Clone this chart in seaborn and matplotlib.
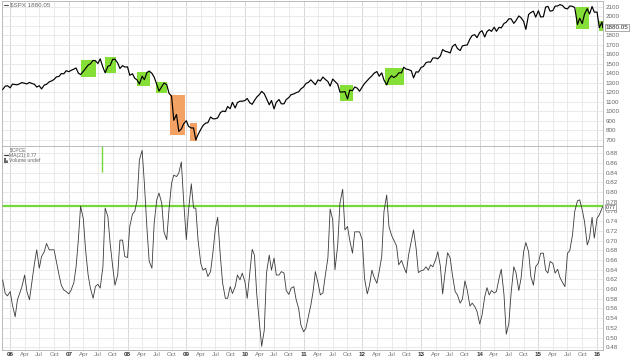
import numpy as np
import pandas as pd
import matplotlib
matplotlib.use("Agg")
import matplotlib.pyplot as plt
import matplotlib.dates as mdates
import matplotlib.transforms as mtransforms
from matplotlib.patches import Rectangle
import seaborn as sns

# ---------------- data ----------------
start_date = "2005-11-15"
last_regular = "2016-02-01"
last_date = "2016-02-05"

spx_close = [
    1230, 1265, 1270,
    1248, 1287, 1282, 1280, 1291, 1303, 1295, 1289, 1305, 1294, 1285, 1256,
    1270, 1236, 1277, 1285, 1311, 1320, 1336, 1362, 1368, 1397, 1396, 1427,
    1418, 1431, 1445, 1456, 1403, 1387, 1421, 1452, 1486, 1501, 1536, 1533,
    1503, 1553, 1465, 1406, 1474, 1484, 1547, 1548, 1508, 1451, 1481, 1467,
    1468, 1380, 1395, 1349, 1330, 1288, 1370, 1334, 1409, 1424, 1400, 1360,
    1285, 1214, 1260, 1298, 1282, 1192, 1161, 907, 968, 790, 816, 869,
    903, 843, 826, 827, 700, 757, 811, 852, 877, 882, 942, 923,
    923, 932, 987, 1004, 998, 1052, 1029, 1096, 1036, 1093, 1108, 1107,
    1115, 1136, 1089, 1075, 1115, 1150, 1178, 1211, 1186, 1135, 1070, 1115,
    1027, 1096, 1125, 1080, 1080, 1125, 1146, 1176, 1184, 1197, 1206, 1236,
    1258, 1293, 1307, 1332, 1306, 1281, 1332, 1320, 1361, 1338, 1314, 1266,
    1340, 1316, 1286, 1204, 1204, 1209, 1131, 1224, 1218, 1257, 1244, 1212,
    1258, 1293, 1324, 1350, 1374, 1402, 1419, 1370, 1405, 1330, 1278, 1342,
    1374, 1356, 1375, 1405, 1406, 1465, 1444, 1440, 1427, 1353, 1416, 1413,
    1462, 1472, 1513, 1520, 1518, 1561, 1562, 1553, 1583, 1650, 1631, 1626,
    1614, 1682, 1706, 1661, 1640, 1688, 1695, 1698, 1761, 1798, 1806, 1775,
    1831, 1848, 1782, 1838, 1859, 1841, 1885, 1842, 1883, 1878, 1924, 1937,
    1973, 1973, 1925, 1955, 2003, 1985, 1946, 1862, 2018, 2039, 2053, 1990,
    2058, 1992, 1995, 2096, 2104, 2053, 2060, 2106, 2108, 2122, 2111, 2084,
    2077, 2108, 2104, 2092, 1914, 1979, 1923, 2023, 2079, 2023, 2102, 2043,
    2044, 1880, 1940, 1880.05,
]

cpce_ma21 = [
    0.619, 0.591, 0.586, 0.595, 0.567, 0.543, 0.578, 0.591, 0.605, 0.629,
    0.595, 0.578, 0.612, 0.653, 0.681, 0.643, 0.667, 0.677, 0.694, 0.681,
    0.681, 0.681, 0.657, 0.629, 0.608, 0.598, 0.595, 0.590, 0.598, 0.613,
    0.646, 0.701, 0.771, 0.745, 0.681, 0.629, 0.602, 0.581, 0.605, 0.610,
    0.602, 0.646, 0.767, 0.749, 0.694, 0.646, 0.608, 0.629, 0.701, 0.701,
    0.667, 0.665, 0.729, 0.755, 0.760, 0.784, 0.866, 0.886, 0.818, 0.725,
    0.657, 0.643, 0.736, 0.784, 0.798, 0.777, 0.718, 0.702, 0.763, 0.818,
    0.835, 0.832, 0.839, 0.862, 0.784, 0.702, 0.763, 0.817, 0.767, 0.767,
    0.701, 0.653, 0.639, 0.643, 0.626, 0.636, 0.674, 0.725, 0.748, 0.667,
    0.612, 0.581, 0.581, 0.605, 0.591, 0.605, 0.629, 0.619, 0.633, 0.615,
    0.581, 0.636, 0.682, 0.670, 0.591, 0.529, 0.482, 0.515, 0.633, 0.670,
    0.639, 0.664, 0.629, 0.629, 0.636, 0.633, 0.597, 0.589, 0.602, 0.605,
    0.579, 0.560, 0.526, 0.512, 0.519, 0.546, 0.567, 0.595, 0.636, 0.612,
    0.588, 0.592, 0.626, 0.664, 0.765, 0.743, 0.640, 0.690, 0.777, 0.806,
    0.722, 0.729, 0.701, 0.674, 0.718, 0.718, 0.718, 0.701, 0.622, 0.590,
    0.608, 0.639, 0.624, 0.612, 0.636, 0.667, 0.760, 0.794, 0.729, 0.711,
    0.701, 0.689, 0.650, 0.659, 0.646, 0.633, 0.670, 0.698, 0.722, 0.684,
    0.634, 0.638, 0.639, 0.646, 0.639, 0.650, 0.646, 0.660, 0.677, 0.647,
    0.590, 0.639, 0.675, 0.664, 0.629, 0.595, 0.588, 0.571, 0.579, 0.617,
    0.598, 0.565, 0.571, 0.564, 0.554, 0.528, 0.546, 0.584, 0.603, 0.588,
    0.597, 0.592, 0.595, 0.622, 0.641, 0.588, 0.507, 0.529, 0.591, 0.646,
    0.633, 0.597, 0.622, 0.677, 0.696, 0.677, 0.626, 0.608, 0.646, 0.654,
    0.674, 0.674, 0.639, 0.633, 0.657, 0.653, 0.633, 0.641, 0.624, 0.613,
    0.605, 0.674, 0.679, 0.711, 0.760, 0.782, 0.784, 0.763, 0.739, 0.691,
    0.705, 0.748, 0.705, 0.746, 0.753, 0.767, 0.770,
]

# highlight boxes on the price panel
box_start = ["2007-03-18", "2007-08-14", "2008-02-27", "2008-06-27", "2008-09-23",
             "2009-01-25", "2011-08-15", "2012-05-22", "2015-08-21", "2016-01-15"]
box_end = ["2007-06-19", "2007-10-22", "2008-05-21", "2008-09-02", "2008-12-24",
           "2009-03-07", "2011-11-05", "2012-09-19", "2015-11-10", "2016-02-12"]
box_low = [1362, 1400, 1267, 1197, 752, 692, 1113, 1278, 1866, 1848]
box_high = [1540, 1568, 1417, 1312, 1172, 882, 1278, 1453, 2100, 1950]
box_kind = ["up", "up", "up", "up", "down", "down", "up", "up", "up", "up"]

cpce_level = 0.772
marker_date = "2007-07-24"
marker_low, marker_high = 0.842, 0.895

spx_last_label = "1880.05"
cpce_last_label = "0.77"
cpce_last_value = 0.769

spx_ticks = list(range(700, 2101, 100))
cpce_ticks = [round(0.48 + 0.02 * k, 2) for k in range(21)]

dates = list(pd.date_range(start_date, last_regular, freq="SMS")) + [pd.Timestamp(last_date)]
df = pd.DataFrame({"date": dates, "spx": spx_close, "cpce": cpce_ma21})

# ---------------- style ----------------
sns.set_style("white")
plt.rcParams["font.family"] = ["Liberation Sans", "DejaVu Sans"]

W, H = 640, 361
fig = plt.figure(figsize=(W / 100, H / 100), dpi=100)
ax1 = fig.add_axes([2 / W, 1 - 146 / H, 601 / W, 145 / H])
ax2 = fig.add_axes([2 / W, 1 - 350 / H, 601 / W, 204 / H])

xlim = (pd.Timestamp("2005-11-11"), pd.Timestamp("2016-02-07"))
quarters = pd.date_range("2006-01-01", "2016-01-01", freq="QS")

GREEN = "#86DF36"
ORANGE = "#F3A264"
GRID = "#E6E6E6"
GRID_Y = "#D2D2D2"
FS = 4.5

for ax in (ax1, ax2):
    for q in quarters:
        ax.axvline(q, color=GRID_Y if q.month == 1 else GRID, lw=0.6, zorder=0)
    for sp in ax.spines.values():
        sp.set_color("#B0B0B0")
        sp.set_linewidth(0.6)
    ax.spines["right"].set_linestyle((0, (1, 1)))
    ax.yaxis.tick_right()
    ax.tick_params(axis="y", length=0, pad=2, labelsize=FS, labelcolor="#666666")
    ax.tick_params(axis="x", length=0, labelbottom=False)

# ---- top: SPX ----
for s, e, lo, hi, k in zip(box_start, box_end, box_low, box_high, box_kind):
    x0 = mdates.date2num(pd.Timestamp(s))
    x1 = mdates.date2num(pd.Timestamp(e))
    ax1.add_patch(Rectangle((x0, lo), x1 - x0, hi - lo,
                            facecolor=GREEN if k == "up" else ORANGE,
                            edgecolor="none", zorder=1))
sns.lineplot(data=df, x="date", y="spx", ax=ax1, color="black", lw=0.85, zorder=3)
ax1.set_ylim(637, 2160)
ax1.set_yticks(spx_ticks)
# the 1900 label is covered by the last-value box in the reference
ax1.set_yticklabels(["" if v == 1900 else str(v) for v in spx_ticks])
for v in spx_ticks:
    ax1.axhline(v, color=GRID, lw=0.6, zorder=0)
ax1.set_xlim(*xlim)
ax1.set_xlabel("")
ax1.set_ylabel("")
ax1.text(1.004, 1880.05, spx_last_label,
         transform=mtransforms.blended_transform_factory(ax1.transAxes, ax1.transData),
         ha="left", va="center", fontsize=FS, color="#222222",
         bbox=dict(boxstyle="square,pad=0.12", fc="white", ec="#888888", lw=0.5),
         zorder=5, clip_on=False)

# ---- bottom: $CPCE MA(21) ----
for v in cpce_ticks:
    ax2.axhline(v, color=GRID, lw=0.6, zorder=0)
ax2.axhline(cpce_level, color="#74D83A", lw=1.6, zorder=2)
ax2.vlines(pd.Timestamp(marker_date), marker_low, marker_high, color="#74D83A", lw=1.0, zorder=2)
sns.lineplot(data=df, x="date", y="cpce", ax=ax2, color="#3a3a3a", lw=0.6, zorder=3)
ax2.set_ylim(0.4744, 0.895)
ax2.set_yticks(cpce_ticks)
ax2.set_yticklabels([f"{v:.2f}" for v in cpce_ticks])
ax2.set_xlim(*xlim)
ax2.set_xlabel("")
ax2.set_ylabel("")
ax2.text(1.004, cpce_last_value, cpce_last_label,
         transform=mtransforms.blended_transform_factory(ax2.transAxes, ax2.transData),
         ha="left", va="center", fontsize=3.7, color="#222222",
         bbox=dict(boxstyle="square,pad=0.05", fc="white", ec="#888888", lw=0.5),
         zorder=5, clip_on=False)

# x tick labels (quarterly)
btrans = mtransforms.blended_transform_factory(ax2.transData, ax2.transAxes)
for q in quarters:
    if q.month == 1:
        ax2.text(q, -0.012, q.strftime("%y"), transform=btrans, ha="center", va="top",
                 fontsize=FS, color="#333333", fontweight="bold")
    else:
        ax2.text(q, -0.012, q.strftime("%b"), transform=btrans, ha="center", va="top",
                 fontsize=FS, color="#777777")

# legends
def ftext(x, y, s, size=4.0, **kw):
    fig.text(x / W, 1 - y / H, s, va="center", ha="left", fontsize=size, color="#666666", **kw)

fig.add_artist(plt.Line2D([4 / W, 8 / W], [1 - 5 / H, 1 - 5 / H], color="#555555", lw=0.8))
ftext(10, 5, "$SPX 1880.05", size=FS)
ftext(10, 150, "$CPCE", size=3.6)
fig.add_artist(plt.Line2D([4 / W, 8 / W], [1 - 155 / H, 1 - 155 / H], color="#333333", lw=0.8))
ftext(9, 155, "MA(21) 0.77", size=3.6)
ftext(3.5, 160, "\u2599", size=3.6, family=["DejaVu Sans"])
ftext(9, 160, "Volume undef", size=3.6)

fig.savefig("out.png", dpi=100)
